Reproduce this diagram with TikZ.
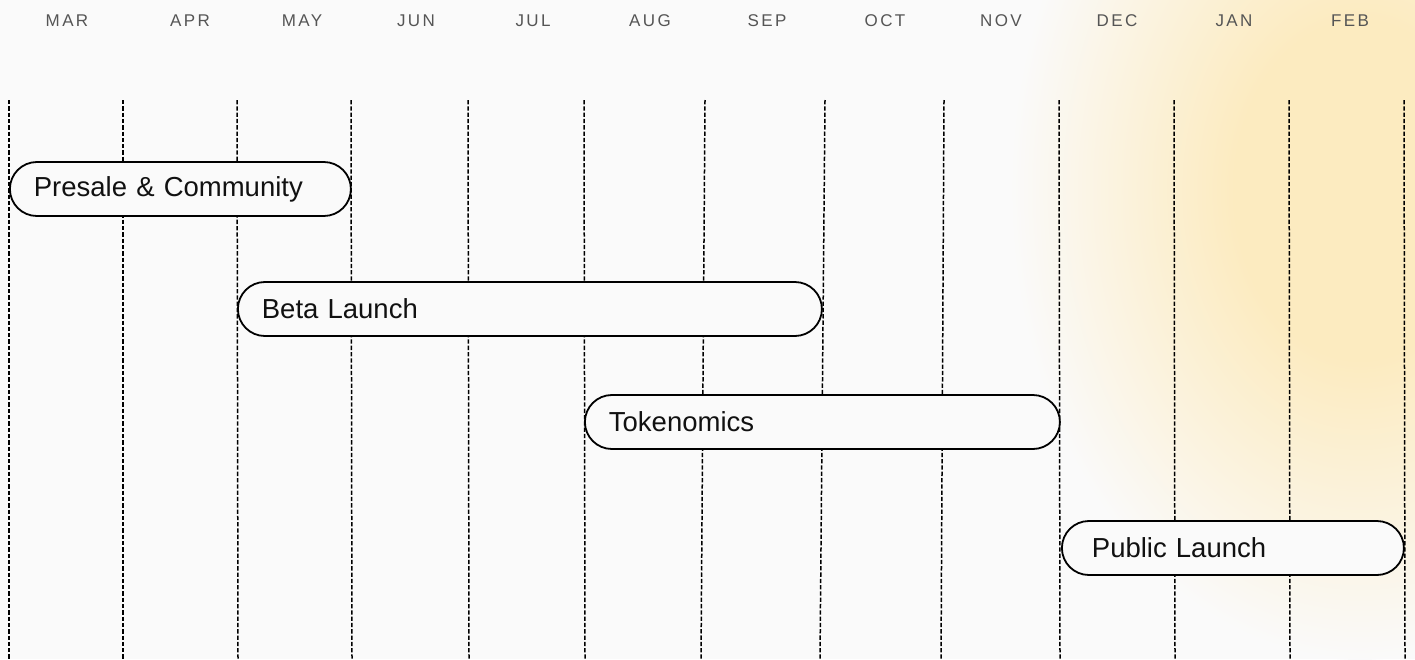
\documentclass[tikz,border=0pt]{standalone}
\usepackage{fontspec}
\setmainfont{Liberation Sans}
\newfontfamily\monthfont[LetterSpace=14]{Liberation Sans}
\definecolor{bgc}{HTML}{FAFAFA}
\definecolor{warm}{HTML}{FCEBC0}
\definecolor{monthc}{HTML}{555555}
\definecolor{inkc}{HTML}{111111}
\pgfdeclareradialshading{warmglow}{\pgfpoint{0bp}{0bp}}{color(0bp)=(warm); color(9bp)=(warm); color(25bp)=(bgc); color(50bp)=(bgc)}
\tikzset{
  month/.style={font=\monthfont\fontsize{17}{20}\selectfont, text=monthc, inner sep=0pt},
  grid/.style={line width=1.5pt, dash pattern=on 4.3pt off 2pt, black},
  bar/.style={draw=black, line width=1.8pt, fill=bgc, rounded corners=27pt,
    minimum height=54pt, inner xsep=24pt, inner ysep=0pt, align=left,
    font=\fontsize{27.5}{30}\selectfont, text=inkc, anchor=west}
}
\begin{document}
\begin{tikzpicture}[x=1pt,y=-1pt]
\useasboundingbox (0,0) rectangle (1415,659);
\fill[bgc] (0,0) rectangle (1415,659);
\begin{scope}
\clip (0,0) rectangle (1415,659);
\shade[shading=warmglow] (1360,190) ellipse [x radius=350, y radius=470];
\end{scope}
% months
\foreach \m/\x [count=\i] in {MAR/67,APR/190,MAY/302,JUN/416,JUL/533,AUG/650,SEP/767,OCT/885,NOV/1001,DEC/1117,JAN/1234,FEB/1350}
  \node[month] (m\i) at (\x,21) {\m};
% grid lines
\foreach \a/\b in {9/9,123/123,237/238,351/352,468/469,584/585,705/701,825/820,944/941,1059/1060,1174/1175,1289/1290,1404/1405}
  \draw[grid] (\a,100) -- (\b,659);
% bars
\node[bar, minimum width=341pt, text width=293pt] (presale) at (9,189) {Presale \& Community};
\node[bar, minimum width=584pt, text width=536pt] (beta) at (237,309) {Beta Launch};
\node[bar, minimum width=475pt, text width=427pt] (token) at (584,422) {Tokenomics};
\node[bar, minimum width=342pt, inner xsep=30pt, text width=282pt] (public) at (1061,548) {Public Launch};
\end{tikzpicture}
\end{document}
